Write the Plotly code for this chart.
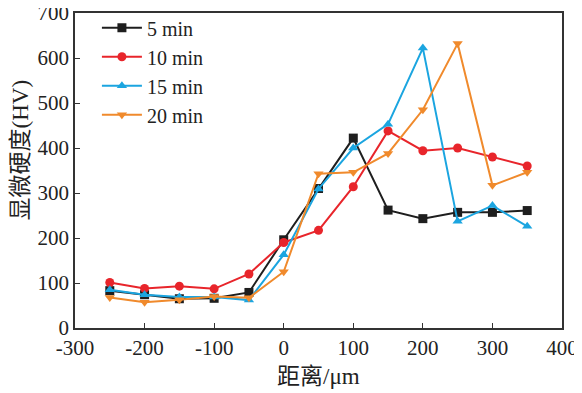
import plotly.graph_objects as go

x = [-250, -200, -150, -100, -50, 0, 50, 100, 150, 200, 250, 300, 350]
y5 = [83, 74, 65, 66, 79, 196, 310, 422, 262, 243, 257, 257, 261]
y10 = [101, 88, 93, 87, 120, 190, 217, 314, 438, 394, 400, 380, 360]
y15 = [85, 74, 69, 69, 62, 163, 309, 400, 453, 622, 237, 272, 226]
y20 = [68, 57, 63, 70, 67, 125, 343, 346, 388, 485, 632, 317, 346]
names = ["5 min", "10 min", "15 min", "20 min"]
colors = ["#1e1e1e", "#e8252b", "#1ba5e0", "#f08a2c"]
symbols = ["square", "circle", "triangle-up", "triangle-down"]
xticks = [-300, -200, -100, 0, 100, 200, 300, 400]
xticktext = ["-300", "-200", "-100", "0", "100", "200", "300", "400"]
yticks = [0, 100, 200, 300, 400, 500, 600, 700]
xtitle = "距离/μm"
ytitle = "显微硬度(HV)"

fig = go.Figure()
for yy, n, c, s in zip([y5, y10, y15, y20], names, colors, symbols):
    fig.add_trace(go.Scatter(x=x, y=yy, name=n, mode="lines+markers",
                             line=dict(color=c, width=2),
                             marker=dict(symbol=s, size=9, color=c)))

font = "Liberation Serif, Noto Sans CJK SC"
axis_common = dict(showline=True, linecolor="#333", linewidth=1.5, mirror=True,
                   ticks="inside", ticklen=5, tickcolor="#333", tickwidth=1.2,
                   showgrid=False, zeroline=False, automargin=False,
                   ticklabeloverflow="allow",
                   tickfont=dict(size=21, family=font, color="#222"))
fig.update_layout(
    width=574, height=385,
    margin=dict(l=67, r=20, t=0, b=65),
    paper_bgcolor="white", plot_bgcolor="white",
    font=dict(family=font, size=21, color="#222"),
    showlegend=True,
    legend=dict(x=0.045, y=1.015, xanchor="left", yanchor="top",
                bgcolor="rgba(0,0,0,0)", font=dict(size=20),
                itemwidth=40, tracegroupgap=0),
    xaxis=dict(range=[-300, 400], tickvals=xticks, ticktext=xticktext, **axis_common),
    yaxis=dict(range=[0, 700], tickvals=yticks, **axis_common),
)
fig.add_annotation(text=xtitle, xref="paper", yref="paper", x=0.5, y=-0.155,
                   xanchor="center", yanchor="middle", showarrow=False,
                   font=dict(size=23, family=font, color="#222"))
fig.add_annotation(text=ytitle, xref="paper", yref="paper", x=-0.112, y=0.565,
                   xanchor="center", yanchor="middle", showarrow=False, textangle=-90,
                   font=dict(size=23, family=font, color="#222"))
fig.write_html("out.html")
